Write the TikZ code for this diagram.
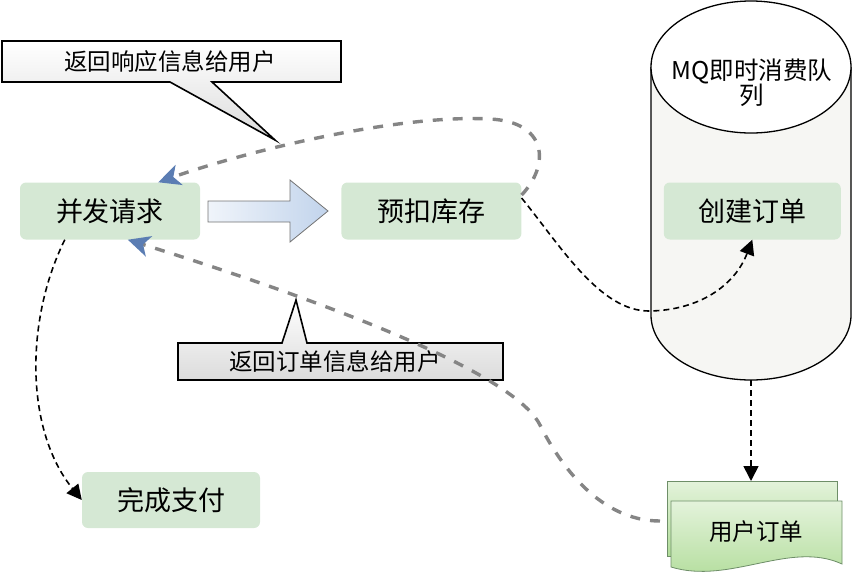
\documentclass[tikz,border=0pt]{standalone}
\usepackage{fontspec}
\setmainfont{Noto Sans CJK SC}
\usepackage{tikz}
\usetikzlibrary{arrows.meta,positioning}
\definecolor{BoxGreen}{HTML}{D5E8D4}
\definecolor{TubeFill}{HTML}{F6F6F3}
\definecolor{DashGray}{HTML}{858585}
\definecolor{TipBlue}{HTML}{5B7DB3}
\definecolor{PushBlue}{HTML}{C2D4EC}
\definecolor{DocGreen}{HTML}{B0DC98}
\definecolor{DocEdge}{HTML}{6E8E68}
\tikzset{
  stage/.style={rectangle,rounded corners=6pt,fill=BoxGreen,minimum width=180pt,
                minimum height=57pt,font=\fontsize{27}{30}\selectfont},
  note/.style={font=\fontsize{23.5}{26}\selectfont},
  callout/.style={draw=black,line width=1.6pt,top color=white,bottom color=black!14},
  push/.style={draw=black!55,line width=0.8pt,left color=PushBlue!25,right color=PushBlue},
  docsheet/.style={draw=DocEdge,line width=0.8pt,top color=DocGreen!35,bottom color=DocGreen},
  flow/.style={-{Triangle[length=15pt,width=15pt]},line width=1.6pt,dash pattern=on 6pt off 4pt},
  reply/.style={-{Stealth[length=22pt,width=21pt,inset=6pt,color=TipBlue]},color=DashGray,
                line width=3.4pt,dash pattern=on 10pt off 10pt},
}

\begin{document}
\begin{tikzpicture}[x=1pt,y=-1pt]
  \useasboundingbox (0,0) rectangle (852,582);

  % MQ tube
  \draw[line width=1.3pt,fill=TubeFill] (651,67) -- (651,315)
    arc[start angle=180,end angle=360,x radius=100pt,y radius=65pt] -- (851,67);
  \draw[line width=1.3pt,fill=white] (751,67) ellipse [x radius=100pt,y radius=66pt];
  \node[note,align=center,font=\fontsize{24.5}{25}\selectfont] (mq) at (752,83) {MQ即时消费队\\列};
  \coordinate (mqbot) at (751,380);

  % stages
  \node[stage] (req) at (110,211) {并发请求};
  \node[stage, right=141pt of req] (hold) {预扣库存};
  \node[stage, minimum width=177pt, right=142pt of hold] (create) {创建订单};
  \node[stage, minimum width=178pt, minimum height=56pt] (pay) at (171,500) {完成支付};

  % big arrow
  \draw[push] (208,201) -- (290,201) -- (290,180) -- (328,211) -- (290,242)
    -- (290,222) -- (208,222) -- cycle;

  % user order (document stack)
  \draw[docsheet] (667,481) rectangle (837,556);
  \draw[docsheet] (671,501) -- (842,501) -- (842,564)
    .. controls (790,540) and (730,585) .. (671,567) -- cycle;
  \node[note] (order) at (756,532) {用户订单};
  \coordinate (ordertop) at (751,481);
  \coordinate (orderleft) at (660,521);

  % callouts
  \draw[callout] (2,41) -- (341,41) -- (341,82) -- (212,82) -- (275,140)
    -- (170,82) -- (2,82) -- cycle;
  \node[note] (respmsg) at (170,62) {返回响应信息给用户};
  \draw[callout] (178,343) -- (282,343) -- (296,300) -- (307,343) -- (503,343)
    -- (503,380) -- (178,380) -- cycle;
  \node[note] (ordermsg) at (335,362) {返回订单信息给用户};

  % connectors
  \draw[flow] ([xshift=45pt]req.south west) .. controls (25,320) and (25,430) .. (pay.west);
  \draw[flow] ([yshift=13pt]hold.east) .. controls (560,245) and (600,312) .. (650,311)
    .. controls (700,310) and (735,285) .. (create.south);
  \draw[flow] (mqbot) -- (ordertop);
  \draw[reply] ([yshift=16pt]hold.east) .. controls (550,165) and (548,122) .. (490,119)
    .. controls (400,114) and (250,150) .. ([xshift=-42pt]req.north east);
  \draw[reply] (orderleft) .. controls (600,521) and (560,465) .. (540,425)
    .. controls (520,385) and (400,325) .. ([xshift=108pt]req.south west);
\end{tikzpicture}
\end{document}
